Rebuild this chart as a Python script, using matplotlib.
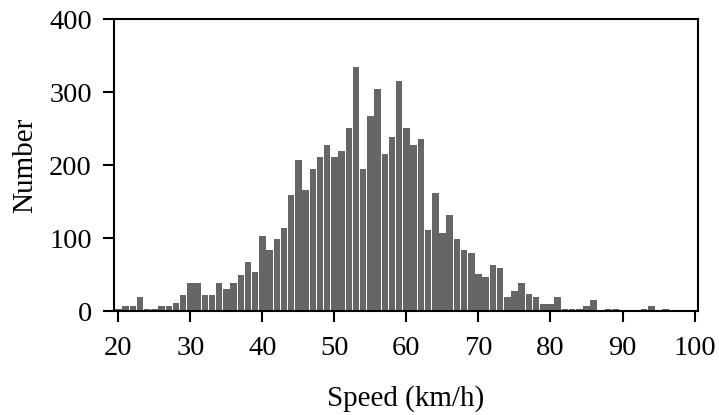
import matplotlib
matplotlib.use("Agg")
import matplotlib.pyplot as plt

speeds = list(range(20, 97))
counts = [3, 7, 7, 19, 3, 3, 7, 7, 11, 22,
          38, 38, 22, 22, 38, 30, 38, 50, 67, 54,
          103, 83, 99, 114, 159, 207, 166, 195, 211, 227,
          211, 219, 251, 335, 195, 267, 304, 215, 239, 316,
          251, 227, 236, 111, 162, 107, 131, 99, 83, 79,
          51, 47, 63, 59, 19, 27, 38, 23, 19, 10,
          10, 19, 3, 3, 3, 7, 15, 0, 3, 3,
          0, 0, 0, 3, 7, 0, 3]
xticks = [20, 30, 40, 50, 60, 70, 80, 90, 100]
yticks = [0, 100, 200, 300, 400]

plt.rcParams['font.family'] = ['Liberation Serif', 'DejaVu Serif']

fig = plt.figure(figsize=(7.19, 4.15), dpi=100)
ax = fig.add_axes([0.1586, 0.2506, 0.8124, 0.7029])
ax.bar(speeds, counts, width=0.9, color='#666666', edgecolor='none', zorder=1)
ax.set_xlim(19.4, 100.5)
ax.set_ylim(0, 400)
ax.set_xticks(xticks)
ax.set_yticks(yticks)
ax.tick_params(axis='both', direction='out', length=8, width=1.5, labelsize=20.5)
ax.tick_params(axis='x', pad=10)
ax.tick_params(axis='y', pad=8)
ax.tick_params(top=False, right=False)
for s in ax.spines.values():
    s.set_linewidth(1.5)
ax.set_xlabel('Speed (km/h)', fontsize=21, labelpad=17)
ax.set_ylabel('Number', fontsize=21, labelpad=8)
fig.savefig('out.png', dpi=100)
